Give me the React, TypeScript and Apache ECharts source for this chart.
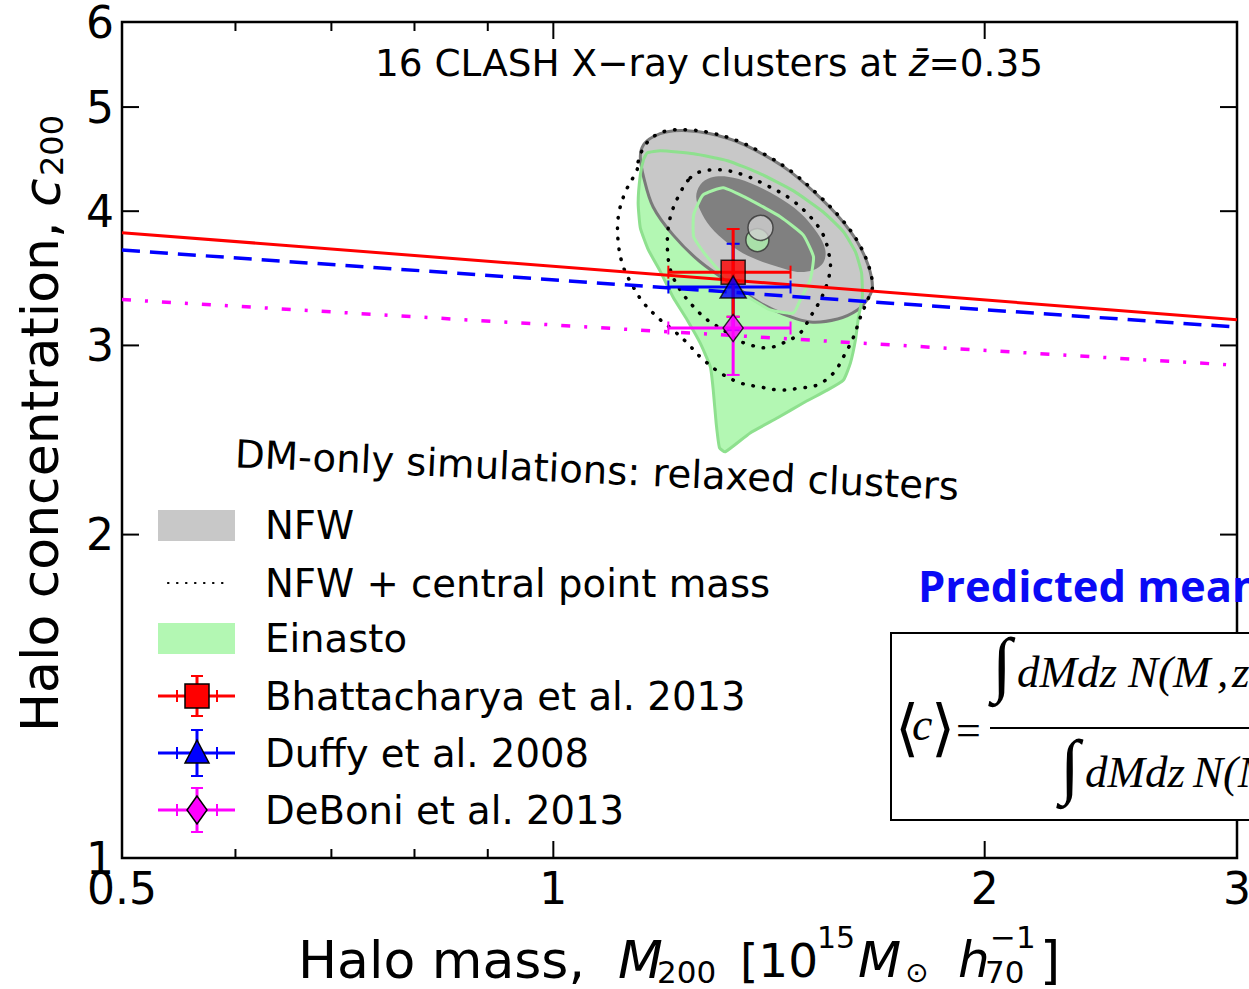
import React, { useEffect, useRef } from "react";
import * as echarts from "echarts";

// Axis ticks: halo mass M200 [1e15 Msun / h70] and concentration c200
const massLabelTicks = [0.5, 1, 2, 3];
const massMajorTicks = [1, 2];
const massMinorTicks = [0.6, 0.7, 0.8, 0.9];
const concLabelTicks = [1, 2, 3, 4, 5, 6];
const concMajorTicks = [2, 3, 4, 5];

// c-M relations from DM-only simulations (power laws, straight in log-log)
const bhattacharyaRelation = [[0.5, 3.82], [3, 3.17]];
const duffyRelation = [[0.5, 3.68], [3, 3.12]];
const deboniRelation = [[0.5, 3.31], [3, 2.875]];

// Predictions at the sample mass: [M, c, Mlow, Mhigh, cLow, cHigh]
const bhattacharyaPoint = [1.335, 3.51, 1.203, 1.464, 3.19, 3.85];
const duffyPoint = [1.335, 3.4, 1.203, 1.464, 3.1, 3.73];
const deboniPoint = [1.335, 3.114, 1.203, 1.464, 2.816, 3.19];

// Stacked best fits [M, c]
const nfwBestFit = [1.395, 3.86];
const einastoBestFit = [1.388, 3.76];

// Confidence contours [M, c]
const nfwOuter = [
  [1.15, 4.495], [1.156, 4.612], [1.174, 4.692], [1.201, 4.743], [1.24, 4.753],
  [1.287, 4.722], [1.344, 4.642], [1.402, 4.515], [1.464, 4.352], [1.528, 4.142],
  [1.586, 3.936], [1.63, 3.745], [1.659, 3.558], [1.67, 3.401], [1.659, 3.321],
  [1.63, 3.237], [1.579, 3.175], [1.511, 3.155], [1.447, 3.209], [1.402, 3.272],
  [1.335, 3.415], [1.266, 3.589], [1.212, 3.802], [1.174, 4.036], [1.156, 4.306],
];
const nfwInner = [
  [1.258, 4.125], [1.266, 4.232], [1.287, 4.296], [1.323, 4.306], [1.372, 4.25],
  [1.434, 4.125], [1.487, 3.985], [1.528, 3.819], [1.548, 3.682], [1.543, 3.581],
  [1.519, 3.527], [1.48, 3.512], [1.434, 3.55], [1.372, 3.627], [1.323, 3.737],
  [1.287, 3.868], [1.266, 4.01],
];
const pointMassOuter = [
  [1.146, 4.447], [1.156, 4.583], [1.174, 4.692], [1.201, 4.753], [1.24, 4.763],
  [1.287, 4.732], [1.344, 4.652], [1.402, 4.524], [1.464, 4.362], [1.528, 4.151],
  [1.586, 3.944], [1.63, 3.753], [1.659, 3.566], [1.67, 3.401], [1.657, 3.307],
  [1.638, 3.188], [1.62, 3.055], [1.594, 2.928], [1.569, 2.828], [1.528, 2.756],
  [1.487, 2.738], [1.44, 2.726], [1.395, 2.744], [1.351, 2.768], [1.308, 2.828],
  [1.266, 2.928], [1.24, 3.016], [1.212, 3.101], [1.188, 3.168], [1.156, 3.286],
  [1.137, 3.401], [1.119, 3.55], [1.11, 3.737], [1.11, 3.953], [1.122, 4.16],
  [1.144, 4.371],
];
const pointMassInner = [
  [1.246, 4.296], [1.266, 4.352], [1.308, 4.371], [1.357, 4.324], [1.411, 4.223],
  [1.464, 4.107], [1.511, 3.953], [1.543, 3.802], [1.556, 3.666], [1.561, 3.55],
  [1.553, 3.43], [1.536, 3.307], [1.511, 3.188], [1.487, 3.081], [1.447, 3.016],
  [1.411, 2.984], [1.372, 3.003], [1.344, 3.036], [1.314, 3.101], [1.281, 3.168],
  [1.253, 3.258], [1.226, 3.379], [1.207, 3.527], [1.201, 3.737], [1.207, 3.953],
  [1.226, 4.16],
];
const einastoOuter = [
  [1.163, 4.534], [1.188, 4.553], [1.253, 4.524], [1.323, 4.457], [1.395, 4.334],
  [1.471, 4.178], [1.543, 3.993], [1.594, 3.827], [1.625, 3.666], [1.641, 3.504],
  [1.643, 3.328], [1.633, 3.188], [1.625, 3.036], [1.612, 2.89], [1.594, 2.786],
  [1.553, 2.726], [1.494, 2.652], [1.434, 2.569], [1.372, 2.487], [1.318, 2.388],
  [1.306, 2.409], [1.299, 2.541], [1.293, 2.726], [1.287, 2.865], [1.266, 3.016],
  [1.24, 3.168], [1.212, 3.328], [1.188, 3.512], [1.165, 3.682], [1.15, 3.86],
  [1.146, 4.071], [1.15, 4.324], [1.156, 4.467],
];
const einastoInner = [
  [1.253, 3.969], [1.272, 4.142], [1.314, 4.205], [1.372, 4.098], [1.44, 3.953],
  [1.494, 3.802], [1.519, 3.627], [1.511, 3.452], [1.487, 3.307], [1.471, 3.216],
  [1.417, 3.237], [1.361, 3.343], [1.318, 3.475], [1.277, 3.643], [1.253, 3.786],
];

const SANS = "DejaVu Sans";
const SERIF = "Liberation Serif";
const RED = "#ff0000";
const BLUE = "#0000ff";
const MAGENTA = "#ff00ff";
const NFW_FILL = "#c8c8c8";
const NFW_EDGE = "#7a7a7a";
const NFW_CORE = "#808080";
const EIN_FILL = "#b3f7b3";
const EIN_EDGE = "#8ee08e";
const EIN_CORE = "#a6f2a6";

function textStyle(text: string, size: number, opts: any = {}) {
  const align = opts.align || "left";
  const valign = opts.valign || "middle";
  return {
    text,
    x: 0,
    y: 0,
    fontSize: size,
    fontFamily: opts.family || SANS,
    fontStyle: opts.italic ? "italic" : "normal",
    fontWeight: opts.bold ? "bold" : "normal",
    fill: opts.color || "#000",
    align,
    verticalAlign: valign,
    textAlign: align,
    textVerticalAlign: valign,
  };
}

function txt(x: number, y: number, text: string, size: number, opts: any = {}) {
  return {
    type: "text",
    x,
    y,
    rotation: opts.rotation || 0,
    z: opts.z || 100,
    silent: true,
    style: textStyle(text, size, opts),
  };
}

function polygonSeries(pts: number[][], style: any, z: number, smooth = 0) {
  return {
    type: "custom",
    coordinateSystem: "cartesian2d",
    silent: true,
    z,
    clip: true,
    data: [pts[0]],
    renderItem: (_params: any, api: any) => ({
      type: "polygon",
      shape: { points: pts.map((p) => api.coord(p)), smooth },
      style,
    }),
  };
}

function seg(a: number[], b: number[], style: any) {
  return { type: "line", shape: { x1: a[0], y1: a[1], x2: b[0], y2: b[1] }, style };
}

function errorBarSeries(pt: number[], color: string, z: number) {
  return {
    type: "custom",
    coordinateSystem: "cartesian2d",
    silent: true,
    z,
    data: [pt],
    encode: { x: 0, y: 1 },
    renderItem: (_params: any, api: any) => {
      const m = api.value(0);
      const c = api.value(1);
      const L = api.coord([api.value(2), c]);
      const R = api.coord([api.value(3), c]);
      const B = api.coord([m, api.value(4)]);
      const T = api.coord([m, api.value(5)]);
      const cap = 6.5;
      const bar = { stroke: color, lineWidth: 3 };
      const capSt = { stroke: color, lineWidth: 2 };
      return {
        type: "group",
        children: [
          seg(L, R, bar),
          seg(T, B, bar),
          seg([L[0], L[1] - cap], [L[0], L[1] + cap], capSt),
          seg([R[0], R[1] - cap], [R[0], R[1] + cap], capSt),
          seg([T[0] - cap, T[1]], [T[0] + cap, T[1]], capSt),
          seg([B[0] - cap, B[1]], [B[0] + cap, B[1]], capSt),
        ],
      };
    },
  };
}

function massTickSeries(values: number[], len: number) {
  return {
    type: "custom",
    coordinateSystem: "cartesian2d",
    silent: true,
    z: 20,
    data: values.map((v) => [v, 1]),
    renderItem: (params: any, api: any) => {
      const px = api.coord([api.value(0), 1])[0];
      const cs = params.coordSys;
      const top = cs.y;
      const bottom = cs.y + cs.height;
      const st = { stroke: "#000", lineWidth: 2 };
      return {
        type: "group",
        children: [seg([px, bottom], [px, bottom - len], st), seg([px, top], [px, top + len], st)],
      };
    },
  };
}

function concTickSeries(values: number[], len: number) {
  return {
    type: "custom",
    coordinateSystem: "cartesian2d",
    silent: true,
    z: 20,
    data: values.map((v) => [1, v]),
    renderItem: (params: any, api: any) => {
      const py = api.coord([1, api.value(1)])[1];
      const cs = params.coordSys;
      const left = cs.x;
      const right = cs.x + cs.width;
      const st = { stroke: "#000", lineWidth: 2 };
      return {
        type: "group",
        children: [seg([left, py], [left + len, py], st), seg([right, py], [right - len, py], st)],
      };
    },
  };
}

function massLabelSeries(values: number[]) {
  return {
    type: "custom",
    coordinateSystem: "cartesian2d",
    silent: true,
    z: 20,
    clip: false,
    data: values.map((v) => [v, 1]),
    renderItem: (params: any, api: any) => {
      const v = api.value(0);
      const px = api.coord([v, 1])[0];
      const cs = params.coordSys;
      return {
        type: "text",
        x: px,
        y: cs.y + cs.height + 8,
        style: textStyle(String(v), 44, { align: "center", valign: "top" }),
      };
    },
  };
}

function concLabelSeries(values: number[]) {
  return {
    type: "custom",
    coordinateSystem: "cartesian2d",
    silent: true,
    z: 20,
    clip: false,
    data: values.map((v) => [1, v]),
    renderItem: (params: any, api: any) => {
      const v = api.value(1);
      const py = api.coord([1, v])[1];
      const cs = params.coordSys;
      return {
        type: "text",
        x: cs.x - 8,
        y: py,
        style: textStyle(String(v), 44, { align: "right", valign: "middle" }),
      };
    },
  };
}

function relationSeries(data: number[][], color: string, type: any, width: number) {
  return {
    type: "line",
    data,
    symbol: "none",
    silent: true,
    z: 8,
    lineStyle: { color, width, type, cap: "butt" },
  };
}

// Legend handles and labels
function legendGraphics() {
  const out: any[] = [];
  const hx0 = 158;
  const hx1 = 235;
  const hc = 197;
  const tx = 265;
  const fs = 38.6;
  const rows = [525, 583, 638, 696, 753, 810];
  out.push({ type: "rect", z: 100, shape: { x: hx0, y: rows[0] - 15, width: hx1 - hx0, height: 31 }, style: { fill: NFW_FILL } });
  out.push({
    type: "line", z: 100,
    shape: { x1: 168, y1: rows[1], x2: 224, y2: rows[1] },
    style: { stroke: "#000", lineWidth: 2.2, lineDash: [0.5, 8.5], lineCap: "round" },
  });
  out.push({ type: "rect", z: 100, shape: { x: hx0, y: rows[2] - 15, width: hx1 - hx0, height: 31 }, style: { fill: EIN_FILL } });
  const bars = (y: number, color: string, vh: number) => {
    const b = { stroke: color, lineWidth: 3 };
    const c = { stroke: color, lineWidth: 2 };
    return [
      { type: "line", z: 100, shape: { x1: hx0, y1: y, x2: hx1, y2: y }, style: b },
      { type: "line", z: 100, shape: { x1: hc, y1: y - vh, x2: hc, y2: y + vh }, style: b },
      { type: "line", z: 100, shape: { x1: hc - 20, y1: y - 6, x2: hc - 20, y2: y + 6 }, style: c },
      { type: "line", z: 100, shape: { x1: hc + 20, y1: y - 6, x2: hc + 20, y2: y + 6 }, style: c },
      { type: "line", z: 100, shape: { x1: hc - 6, y1: y - vh, x2: hc + 6, y2: y - vh }, style: c },
      { type: "line", z: 100, shape: { x1: hc - 6, y1: y + vh, x2: hc + 6, y2: y + vh }, style: c },
    ];
  };
  out.push(...bars(rows[3], RED, 20));
  out.push({ type: "rect", z: 101, shape: { x: hc - 12, y: rows[3] - 12, width: 24, height: 24 }, style: { fill: RED, stroke: "#000", lineWidth: 1.5 } });
  out.push(...bars(rows[4], BLUE, 23));
  out.push({
    type: "polygon", z: 101,
    shape: { points: [[hc, rows[4] - 13], [hc - 12, rows[4] + 10], [hc + 12, rows[4] + 10]] },
    style: { fill: BLUE, stroke: "#000", lineWidth: 1.5 },
  });
  out.push(...bars(rows[5], MAGENTA, 22));
  out.push({
    type: "polygon", z: 101,
    shape: { points: [[hc, rows[5] - 14], [hc - 10, rows[5]], [hc, rows[5] + 14], [hc + 10, rows[5]]] },
    style: { fill: MAGENTA, stroke: "#000", lineWidth: 1.5 },
  });
  const labels = ["NFW", "NFW + central point mass", "Einasto", "Bhattacharya et al. 2013", "Duffy et al. 2008", "DeBoni et al. 2013"];
  labels.forEach((l, i) => out.push(txt(tx, rows[i], l, fs)));
  return out;
}

function annotationGraphics() {
  const out: any[] = [];
  // panel title
  out.push({
    type: "text", z: 100, x: 709, y: 63, silent: true,
    style: {
      ...textStyle("", 37.4, { align: "center" }),
      text: "16 CLASH X\u2212ray clusters at {i|z\u0304}=0.35",
      rich: { i: { fontSize: 37.4, fontFamily: SANS, fontStyle: "italic" } },
    },
  });
  out.push(txt(597, 470, "DM-only simulations: relaxed clusters", 38.6, { align: "center", rotation: -0.045 }));

  // y-axis title
  out.push(txt(40, 732, "Halo concentration,", 52, { rotation: Math.PI / 2 }));
  out.push(txt(42, 207, "c", 52, { rotation: Math.PI / 2, italic: true }));
  out.push(txt(52, 176, "200", 32, { rotation: Math.PI / 2 }));

  // x-axis title
  out.push(txt(298, 960, "Halo mass,", 52));
  out.push(txt(618, 960, "M", 52, { italic: true }));
  out.push(txt(657, 972, "200", 31));
  out.push(txt(740, 960, "[10", 47));
  out.push(txt(817, 937, "15", 30));
  out.push(txt(858, 960, "M", 50, { italic: true }));
  out.push(txt(905, 972, "\u2299", 28));
  out.push(txt(958, 960, "h", 50, { italic: true }));
  out.push(txt(985, 972, "70", 31));
  out.push(txt(990, 937, "\u22121", 31));
  out.push(txt(1040, 960, "]", 52));

  // predicted-mean panel
  out.push(txt(918, 585, "Predicted mean", 43.5, { bold: true, color: "#0a0af5", family: "Open Sans" }));
  out.push({
    type: "rect", z: 100, silent: true,
    shape: { x: 891, y: 633, width: 420, height: 187 },
    style: { fill: "#fff", stroke: "#000", lineWidth: 2 },
  });
  out.push(txt(895, 727, "\u27E8", 62, { family: "DejaVu Serif" }));
  out.push(txt(912, 724, "c", 46, { family: SERIF, italic: true }));
  out.push(txt(931, 727, "\u27E9", 62, { family: "DejaVu Serif" }));
  out.push(txt(956, 730, "=", 44, { family: SERIF }));
  out.push({
    type: "line", z: 101, silent: true,
    shape: { x1: 990, y1: 728, x2: 1260, y2: 728 },
    style: { stroke: "#000", lineWidth: 2 },
  });
  out.push(txt(992, 664, "\u222B", 72, { family: SERIF }));
  out.push(txt(1017, 672, "dMdz", 45, { family: SERIF, italic: true }));
  out.push(txt(1128, 672, "N(M", 45, { family: SERIF, italic: true }));
  out.push(txt(1217, 672, ",", 45, { family: SERIF, italic: true }));
  out.push(txt(1232, 672, "z", 45, { family: SERIF, italic: true }));
  out.push(txt(1060, 766, "\u222B", 72, { family: SERIF }));
  out.push(txt(1085, 772, "dMdz", 45, { family: SERIF, italic: true }));
  out.push(txt(1193, 772, "N(M", 45, { family: SERIF, italic: true }));
  return out;
}

function buildOption(): any {
  return {
    animation: false,
    backgroundColor: "#fff",
    grid: {
      left: 122, right: 12, top: 22, bottom: 131,
      show: true, borderColor: "#000", borderWidth: 2.5, backgroundColor: "transparent",
      outerBoundsMode: "none",
    },
    xAxis: {
      type: "log", logBase: 10, min: 0.5, max: 3,
      axisLine: { show: false }, axisTick: { show: false }, axisLabel: { show: false }, splitLine: { show: false },
    },
    yAxis: {
      type: "log", logBase: 10, min: 1, max: 6,
      axisLine: { show: false }, axisTick: { show: false }, axisLabel: { show: false }, splitLine: { show: false },
    },
    series: [
      polygonSeries(einastoOuter, { fill: EIN_FILL }, 2, 0.15),
      polygonSeries(nfwOuter, { fill: NFW_FILL, stroke: NFW_EDGE, lineWidth: 3 }, 3, 0.35),
      polygonSeries(nfwInner, { fill: NFW_CORE }, 4, 0.35),
      polygonSeries(einastoOuter, { fill: "none", stroke: EIN_EDGE, lineWidth: 3, lineJoin: "round" }, 5, 0.15),
      polygonSeries(einastoInner, { fill: "none", stroke: EIN_CORE, lineWidth: 3, lineJoin: "round" }, 5, 0.15),
      polygonSeries(pointMassOuter, { fill: "none", stroke: "#000", lineWidth: 3.5, lineDash: [0.5, 10], lineCap: "round" }, 6, 0.35),
      polygonSeries(pointMassInner, { fill: "none", stroke: "#000", lineWidth: 3.5, lineDash: [0.5, 10], lineCap: "round" }, 6, 0.35),
      {
        type: "scatter", data: [einastoBestFit], symbol: "circle", symbolSize: 23, silent: true, z: 7,
        itemStyle: { color: EIN_FILL, borderColor: "#333", borderWidth: 1.5 },
      },
      {
        type: "scatter", data: [nfwBestFit], symbol: "circle", symbolSize: 25, silent: true, z: 7,
        itemStyle: { color: "#d0d0d0", borderColor: "#333", borderWidth: 1.5 },
      },
      relationSeries(bhattacharyaRelation, RED, "solid", 3),
      relationSeries(duffyRelation, BLUE, [18, 10], 3.5),
      relationSeries(deboniRelation, MAGENTA, [9, 14, 3, 14], 3.5),
      errorBarSeries(duffyPoint, BLUE, 9),
      errorBarSeries(bhattacharyaPoint, RED, 10),
      errorBarSeries(deboniPoint, MAGENTA, 11),
      {
        type: "scatter", data: [bhattacharyaPoint.slice(0, 2)], symbol: "rect", symbolSize: 24, silent: true, z: 12,
        itemStyle: { color: RED, borderColor: "#000", borderWidth: 1.5 },
      },
      {
        type: "scatter", data: [duffyPoint.slice(0, 2)], symbol: "triangle", symbolSize: [26, 22], silent: true, z: 12,
        itemStyle: { color: BLUE, borderColor: "#000", borderWidth: 1.5 },
      },
      {
        type: "scatter", data: [deboniPoint.slice(0, 2)], symbol: "diamond", symbolSize: [20, 27], silent: true, z: 12,
        itemStyle: { color: MAGENTA, borderColor: "#000", borderWidth: 1.5 },
      },
      massTickSeries(massMajorTicks, 17),
      massTickSeries(massMinorTicks, 9),
      concTickSeries(concMajorTicks, 17),
      massLabelSeries(massLabelTicks),
      concLabelSeries(concLabelTicks),
    ],
    graphic: [...legendGraphics(), ...annotationGraphics()],
  };
}

export default function App() {
  const ref = useRef<HTMLDivElement>(null);
  useEffect(() => {
    const chart = echarts.init(ref.current!, null, { renderer: "svg" });
    chart.setOption(buildOption());
    return () => chart.dispose();
  }, []);
  return (
    <div
      ref={ref}
      style={{ position: "absolute", left: 0, top: 0, width: 1249, height: 989, background: "#fff" }}
    />
  );
}
